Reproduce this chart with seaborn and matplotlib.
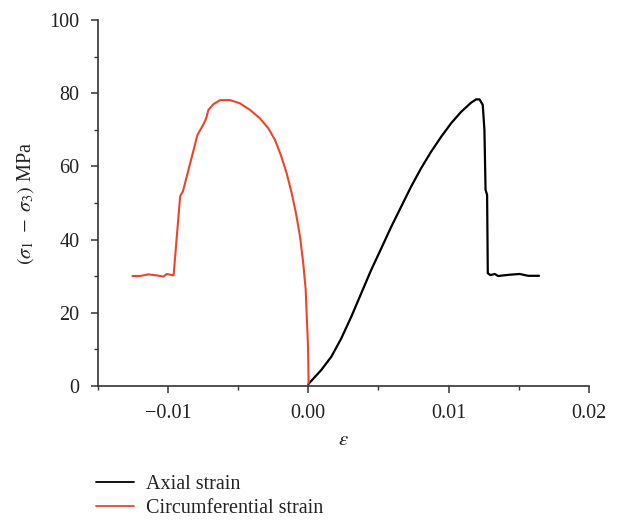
import matplotlib
matplotlib.use("Agg")
import matplotlib.pyplot as plt
from matplotlib.ticker import MultipleLocator, FuncFormatter
from matplotlib.lines import Line2D
import seaborn as sns
import pandas as pd

# Circumferential strain branch (negative strain side)
circ_strain = [-0.01253, -0.01198, -0.01139, -0.01079, -0.01032, -0.01008, -0.00984,
               -0.0096, -0.00913, -0.00894, -0.00842, -0.0079, -0.00747, -0.00728,
               -0.00712, -0.00676, -0.00628, -0.00557, -0.00486, -0.00415, -0.00344,
               -0.00285, -0.00237, -0.00196, -0.00154, -0.00118, -0.00088, -0.00059,
               -0.00036, -0.00019, -0.00012, -0.00002, 0.00002]
circ_stress = [30.05, 30.05, 30.5, 30.2, 29.9, 30.6, 30.4,
               30.2, 51.9, 53.1, 60.8, 68.6, 71.5, 73.1,
               75.4, 77.0, 78.1, 78.1, 77.2, 75.4, 73.1,
               70.4, 67.2, 63.1, 58.1, 52.6, 47.2, 40.8,
               33.5, 26.5, 19.9, 10.7, 0.7]

# Axial strain branch
axial_strain = [0.0, 0.00093, 0.00164, 0.00235, 0.00306, 0.00377, 0.00448, 0.0052,
                0.00591, 0.00662, 0.00733, 0.00804, 0.00875, 0.00947, 0.01018,
                0.01089, 0.0116, 0.01196, 0.0122, 0.01243, 0.01255, 0.01263,
                0.01274, 0.01279, 0.01298, 0.01329, 0.01352, 0.01436, 0.01507,
                0.01566, 0.01644]
axial_stress = [0.5, 4.4, 8.0, 13.0, 18.9, 25.3, 31.7, 37.6,
                43.5, 49.0, 54.5, 59.5, 64.0, 68.1, 71.8,
                74.9, 77.4, 78.3, 78.3, 76.8, 69.9, 53.6,
                52.2, 30.8, 30.3, 30.6, 30.05, 30.4, 30.6,
                30.1, 30.1]

x_ticks = [-0.01, 0.00, 0.01, 0.02]
y_ticks = [0, 20, 40, 60, 80, 100]

RED = "#f0442a"
BLACK = "#000000"
AXIS = "#333333"

sns.set_theme(style="ticks")
plt.rcParams["font.family"] = ["Liberation Serif", "DejaVu Serif"]
plt.rcParams["mathtext.fontset"] = "stix"
plt.rcParams["axes.unicode_minus"] = True

fig = plt.figure(figsize=(6.19, 5.25), dpi=100)
ax = fig.add_axes([0.158, 0.2648, 0.7935, 0.6972])

axial_df = pd.DataFrame({"strain": axial_strain, "stress": axial_stress})
circ_df = pd.DataFrame({"strain": circ_strain, "stress": circ_stress})

sns.lineplot(data=axial_df, x="strain", y="stress", sort=False, estimator=None,
             color=BLACK, linewidth=1.6, ax=ax, solid_joinstyle="round")
sns.lineplot(data=circ_df, x="strain", y="stress", sort=False, estimator=None,
             color=RED, linewidth=1.5, ax=ax, solid_joinstyle="round")

ax.set_xlim(-0.015, 0.02)
ax.set_ylim(0, 100)
ax.set_xticks(x_ticks)
ax.set_yticks(y_ticks)
ax.xaxis.set_minor_locator(MultipleLocator(0.005))
ax.yaxis.set_minor_locator(MultipleLocator(10))
ax.xaxis.set_major_formatter(FuncFormatter(lambda v, p: f"{v:.2f}".replace("-", "\u2212")))
ax.yaxis.set_major_formatter(FuncFormatter(lambda v, p: f"{v:.0f}"))

for side in ("top", "right"):
    ax.spines[side].set_visible(False)
for side in ("left", "bottom"):
    ax.spines[side].set_color(AXIS)
    ax.spines[side].set_linewidth(1.2)

ax.tick_params(axis="both", which="major", direction="out", length=5, width=1.1,
               color=AXIS, labelsize=14.5, labelcolor="#222222")
ax.tick_params(axis="x", which="major", pad=8)
ax.tick_params(axis="y", which="major", pad=8)
ax.tick_params(axis="both", which="minor", direction="out", length=3, width=1.0,
               color=AXIS)

ax.set_xlabel(r"$\varepsilon$", fontsize=15, color="#222222", labelpad=6)
ax.set_ylabel(r"$(\sigma_1\ -\ \sigma_3)$ MPa", fontsize=14.5, color="#222222", labelpad=10)

handles = [Line2D([], [], color=BLACK, linewidth=1.3),
           Line2D([], [], color=RED, linewidth=1.3)]
fig.legend(handles, ["Axial strain", "Circumferential strain"],
           loc="upper left", bbox_to_anchor=(0.155, 0.095), frameon=False,
           fontsize=14.5, handlelength=1.9, handletextpad=0.6,
           labelspacing=0.25, borderpad=0, borderaxespad=0, labelcolor="#222222")

fig.savefig("out.png", dpi=100)
